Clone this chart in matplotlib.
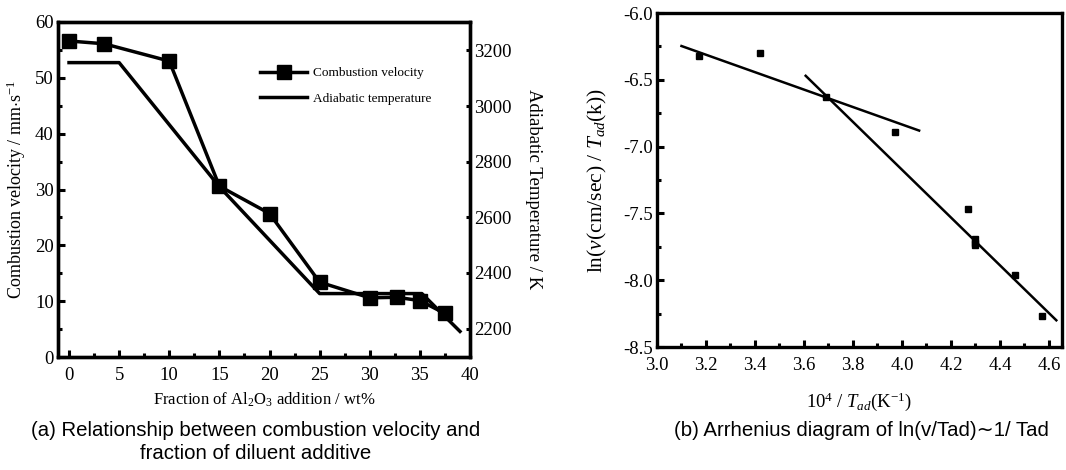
import matplotlib
matplotlib.use('Agg')
import matplotlib.pyplot as plt
from matplotlib.ticker import MultipleLocator, FormatStrFormatter

plt.rcParams['font.family'] = ['Liberation Serif', 'DejaVu Serif']
plt.rcParams['mathtext.fontset'] = 'custom'
plt.rcParams['mathtext.rm'] = 'Liberation Serif'
plt.rcParams['mathtext.it'] = 'Liberation Serif:italic'

# (a) combustion velocity vs Al2O3 fraction
frac = [0, 3.5, 10, 15, 20, 25, 30, 32.7, 35, 37.5]
velocity = [56.6, 56.1, 53.0, 30.6, 25.7, 13.4, 10.6, 10.7, 10.1, 7.8]
# adiabatic temperature (K)
frac_t = [0, 5, 15, 25, 35.2, 39]
temp_ad = [3156, 3156, 2710, 2326, 2326, 2190]

# (b) Arrhenius data
inv_t = [3.17, 3.42, 3.69, 3.97, 4.27, 4.30, 4.30, 4.30, 4.46, 4.57]
ln_v = [-6.32, -6.30, -6.63, -6.89, -7.47, -7.69, -7.72, -7.74, -7.96, -8.27]
fit1_x = [3.10, 4.07]
fit1_y = [-6.247, -6.88]
fit2_x = [3.607, 4.63]
fit2_y = [-6.47, -8.30]

cap_font = ['Liberation Sans Narrow', 'Liberation Sans', 'DejaVu Sans']

fig = plt.figure(figsize=(10.66, 4.70), dpi=100)


def style_ticks(a):
    for s in a.spines.values():
        s.set_linewidth(2.4)
    a.tick_params(which='both', direction='in', width=2.2, labelsize=13.5, pad=3)
    a.tick_params(axis='x', which='both', pad=7)
    a.tick_params(which='major', length=5)
    a.tick_params(which='minor', length=3)


ax1 = fig.add_axes([0.0544, 0.2404, 0.3865, 0.7128])
ax1.plot(frac, velocity, color='black', lw=2.5, marker='s', ms=9.5,
         label='Combustion velocity')
ax1.set_xlim(-1.1, 40)
ax1.set_ylim(0, 60)
ax1.xaxis.set_major_locator(MultipleLocator(5))
ax1.xaxis.set_minor_locator(MultipleLocator(2.5))
ax1.yaxis.set_major_locator(MultipleLocator(10))
ax1.yaxis.set_minor_locator(MultipleLocator(5))
style_ticks(ax1)
ax1.tick_params(axis='y', which='both', right=True)
ax1.set_ylabel('Combustion velocity / mm$\\cdot$s$^{-1}$', fontsize=13, va='center')
ax1.yaxis.set_label_coords(-0.1, 0.5)
ax1.set_xlabel('Fraction of Al$_2$O$_3$ addition / wt%', fontsize=12, va='center')
ax1.xaxis.set_label_coords(0.5, -0.128)

ax2 = ax1.twinx()
ax2.plot(frac_t, temp_ad, color='black', lw=2.5, label='Adiabatic temperature')
ax2.set_ylim(2098, 3302)
ax2.yaxis.set_major_locator(MultipleLocator(200))
style_ticks(ax2)
ax2.tick_params(which='major', length=3)
ax2.set_ylabel('Adiabatic Temperature / K', fontsize=13.5, rotation=270, va='center')
ax2.yaxis.set_label_coords(1.153, 0.5)

h1, l1 = ax1.get_legend_handles_labels()
h2, l2 = ax2.get_legend_handles_labels()
ax1.legend(h1 + h2, l1 + l2, loc='upper left', bbox_to_anchor=(0.49, 0.866),
           frameon=False, fontsize=9.5, handlelength=3.6, handletextpad=0.45,
           labelspacing=1.0, borderpad=0, borderaxespad=0)

fig.text(0.24, 0.085, '(a) Relationship between combustion velocity and',
         ha='center', va='center', fontsize=14.7, family=cap_font)
fig.text(0.24, 0.036, 'fraction of diluent additive',
         ha='center', va='center', fontsize=14.7, family=cap_font)

# (b)
ax3 = fig.add_axes([0.6163, 0.2617, 0.3799, 0.7106])
ax3.plot(fit1_x, fit1_y, color='black', lw=1.8)
ax3.plot(fit2_x, fit2_y, color='black', lw=1.8)
ax3.plot(inv_t, ln_v, ls='none', marker='s', ms=4.5, color='black')
ax3.set_xlim(3.0, 4.653)
ax3.set_ylim(-8.5, -6.0)
ax3.xaxis.set_major_locator(MultipleLocator(0.2))
ax3.xaxis.set_minor_locator(MultipleLocator(0.1))
ax3.yaxis.set_major_locator(MultipleLocator(0.5))
ax3.yaxis.set_minor_locator(MultipleLocator(0.25))
ax3.xaxis.set_major_formatter(FormatStrFormatter('%.1f'))
ax3.yaxis.set_major_formatter(FormatStrFormatter('%.1f'))
style_ticks(ax3)
ax3.set_ylabel('ln($v$(cm/sec) / $T_{ad}$(k))', fontsize=15.5, va='center')
ax3.yaxis.set_label_coords(-0.146, 0.5)
ax3.set_xlabel('10$^4$ / $T_{ad}$(K$^{-1}$)', fontsize=13.5, va='center')
ax3.xaxis.set_label_coords(0.5, -0.165)

fig.text(0.808, 0.085, '(b) Arrhenius diagram of ln(v/Tad)\u223c1/ Tad',
         ha='center', va='center', fontsize=14.7, family=cap_font)

fig.savefig('out.png', dpi=100)
